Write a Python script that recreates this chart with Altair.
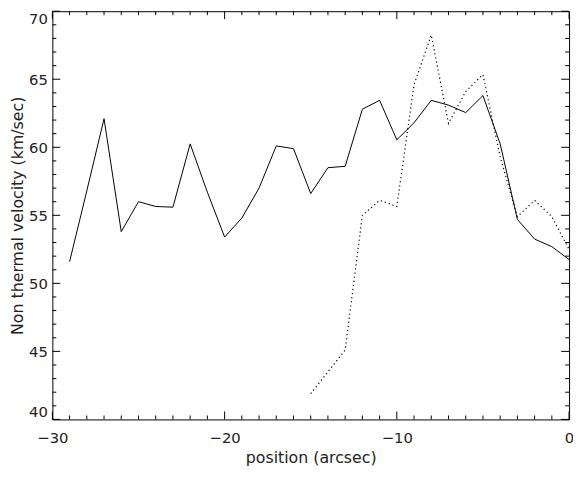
import altair as alt
import pandas as pd

# Solid curve
pos_solid = [-29, -28, -27, -26, -25, -24, -23, -22, -21, -20, -19, -18, -17, -16, -15,
             -14, -13, -12, -11, -10, -9, -8, -7, -6, -5, -4, -3, -2, -1, 0]
vel_solid = [51.6, 56.8, 62.1, 53.8, 56.0, 55.65, 55.6, 60.25, 56.7, 53.4, 54.8, 57.0, 60.1, 59.9, 56.6,
             58.5, 58.6, 62.8, 63.45, 60.55, 61.8, 63.45, 63.1, 62.55, 63.8, 60.25, 54.7, 53.25, 52.7, 51.75]

# Dotted curve
pos_dot = [-15, -14, -13, -12, -11, -10, -9, -8, -7, -6, -5, -4, -3, -2, -1, 0]
vel_dot = [41.9, 43.5, 45.1, 55.0, 56.1, 55.65, 64.6, 68.25, 61.75, 64.1, 65.35, 59.3, 54.9, 56.1, 54.9, 52.5]

# Axis ticks
x_major = [-30, -20, -10, 0]
x_minor = [v for v in range(-30, 1) if v % 10 != 0]
y_major = [40, 45, 50, 55, 60, 65, 70]
y_minor = [v for v in range(40, 71) if v % 5 != 0]

W, H = 524, 414
MAJ, MIN = 8, 4
FONT = "DejaVu Sans"
TXT = "#222222"

xs = alt.Scale(domain=[-30, 0], nice=False, zero=False)
ys = alt.Scale(domain=[40, 70], nice=False, zero=False)

df_s = pd.DataFrame({"pos": pos_solid, "vel": vel_solid})
df_d = pd.DataFrame({"pos": pos_dot, "vel": vel_dot})

xaxis = alt.Axis(values=x_major, title="position (arcsec)", grid=False, domain=False, ticks=False,
                 labelPadding=11, titlePadding=5, labelFontSize=15, titleFontSize=16,
                 labelFont=FONT, titleFont=FONT, labelColor=TXT, titleColor=TXT,
                 titleFontWeight="normal", labelFlush=False)
yaxis = alt.Axis(values=y_major, title="Non thermal velocity (km/sec)", grid=False, domain=False,
                 ticks=False, labelPadding=5, titlePadding=3, labelFontSize=15, titleFontSize=16,
                 labelFont=FONT, titleFont=FONT, labelColor=TXT, titleColor=TXT,
                 titleFontWeight="normal", labelFlush=True)

solid = alt.Chart(df_s).mark_line(color="black", strokeWidth=1).encode(
    x=alt.X("pos:Q", scale=xs, axis=xaxis),
    y=alt.Y("vel:Q", scale=ys, axis=yaxis),
)
dotted = alt.Chart(df_d).mark_line(color="black", strokeWidth=1.2, strokeDash=[1.2, 3]).encode(
    x=alt.X("pos:Q", scale=xs),
    y=alt.Y("vel:Q", scale=ys),
)

def xticks(vals, y0, y1):
    return alt.Chart(pd.DataFrame({"pos": vals})).mark_rule(color="black", strokeWidth=1).encode(
        x=alt.X("pos:Q", scale=xs), y=alt.value(y0), y2=alt.value(y1))

def yticks(vals, x0, x1):
    return alt.Chart(pd.DataFrame({"vel": vals})).mark_rule(color="black", strokeWidth=1).encode(
        y=alt.Y("vel:Q", scale=ys), x=alt.value(x0), x2=alt.value(x1))

layers = [
    solid, dotted,
    xticks(x_major, H, H - MAJ), xticks(x_minor, H, H - MIN),
    xticks(x_major, 0, MAJ), xticks(x_minor, 0, MIN),
    yticks(y_major, 0, MAJ), yticks(y_minor, 0, MIN),
    yticks(y_major, W, W - MAJ), yticks(y_minor, W, W - MIN),
]

chart = alt.layer(*layers).properties(
    width=W, height=H,
    padding={"left": 45, "top": 0, "right": 4, "bottom": 46},
    autosize=alt.AutoSizeParams(type="none"),
    background="white",
).configure_view(stroke="black", strokeWidth=1)

chart.save("out.html", embed_options={"renderer": "svg", "actions": False})
